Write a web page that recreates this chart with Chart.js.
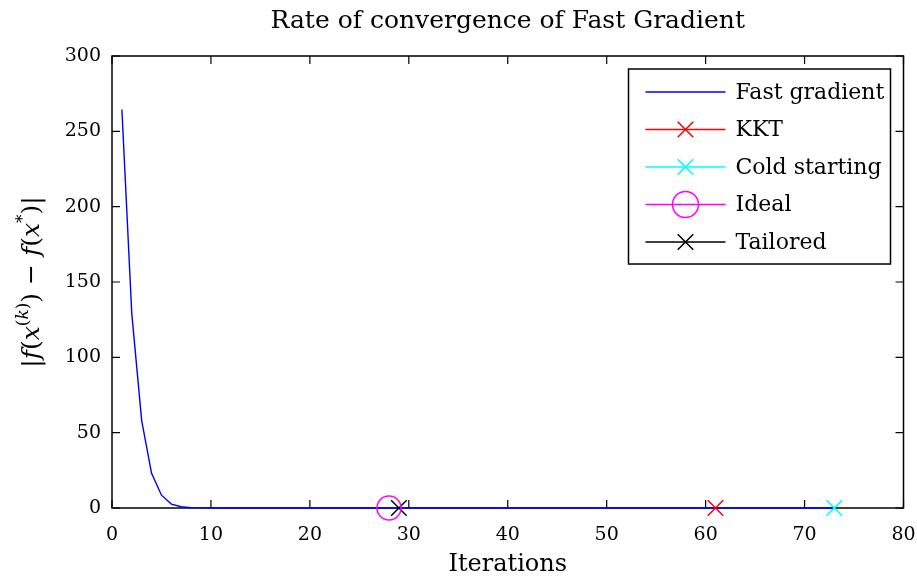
<!DOCTYPE html>
<html>
<head>
<meta charset="utf-8">
<script src="https://cdn.jsdelivr.net/npm/chart.js@4.4.1/dist/chart.umd.min.js"></script>
<style>
  html, body { margin: 0; padding: 0; background: #fff; }
  #wrap { width: 917px; height: 579px; }
</style>
</head>
<body>
<div id="wrap"><canvas id="conv" width="917" height="579"></canvas></div>
<script>
// gap |f(x^(k)) - f(x*)| per iteration of the fast gradient method
const fastGradient = [
  264.5, 129, 58, 23, 8.5, 2.6, 0.8, 0.25, 0.08, 0.03,
  0.01, 0.005, 0.002, 0.001, 0, 0, 0, 0, 0, 0,
  0, 0, 0, 0, 0, 0, 0, 0, 0, 0,
  0, 0, 0, 0, 0, 0, 0, 0, 0, 0,
  0, 0, 0, 0, 0, 0, 0, 0, 0, 0,
  0, 0, 0, 0, 0, 0, 0, 0, 0, 0,
  0, 0, 0, 0, 0, 0, 0, 0, 0, 0,
  0, 0, 0
];
const iterations = fastGradient.map((_, i) => i + 1);

// stopping iteration of each termination criterion
const stopLabels = ['KKT', 'Cold starting', 'Ideal', 'Tailored'];
const stopIters  = [61, 73, 28, 29];
const stopGap    = [0, 0, 0, 0];
const stopColors = ['#ff0000', '#00ffff', '#ff00ff', '#000000'];
const stopStyles = ['crossRot', 'crossRot', 'circle', 'crossRot'];

const xTicks = [0, 10, 20, 30, 40, 50, 60, 70, 80];
const yTicks = [0, 50, 100, 150, 200, 250, 300];

const serif = "'DejaVu Serif', 'Liberation Serif', serif";

const datasets = [{
  label: 'Fast gradient',
  data: iterations.map((it, i) => ({ x: it, y: fastGradient[i] })),
  borderColor: '#0000ff',
  borderWidth: 1.4,
  pointRadius: 0,
  tension: 0,
  clip: false,
  order: 5,
  legendStyle: null
}];
stopLabels.forEach((lab, i) => {
  datasets.push({
    label: lab,
    data: [{ x: stopIters[i], y: stopGap[i] }],
    borderColor: stopColors[i],
    backgroundColor: 'rgba(0,0,0,0)',
    showLine: false,
    pointStyle: stopStyles[i],
    pointRadius: stopStyles[i] === 'circle' ? 12 : 11,
    pointBorderWidth: 1.5,
    clip: false,
    order: 0,
    legendStyle: stopStyles[i]
  });
});

const TICK = 8;

const framePlugin = {
  id: 'frame',
  beforeDatasetsDraw(chart) {
    const { ctx, chartArea: a, scales } = chart;
    ctx.save();
    ctx.strokeStyle = '#000';
    ctx.lineWidth = 1.5;
    ctx.strokeRect(a.left, a.top, a.right - a.left, a.bottom - a.top);
    ctx.lineWidth = 1.2;
    ctx.beginPath();
    xTicks.forEach(v => {
      const px = scales.x.getPixelForValue(v);
      ctx.moveTo(px, a.bottom); ctx.lineTo(px, a.bottom - TICK);
      ctx.moveTo(px, a.top); ctx.lineTo(px, a.top + TICK);
    });
    yTicks.forEach(v => {
      const py = scales.y.getPixelForValue(v);
      ctx.moveTo(a.left, py); ctx.lineTo(a.left + TICK, py);
      ctx.moveTo(a.right, py); ctx.lineTo(a.right - TICK, py);
    });
    ctx.stroke();
    ctx.restore();
  },
  afterDraw(chart) {
    const { ctx, chartArea: a } = chart;
    ctx.save();

    // y axis label with real superscripts
    ctx.translate(39, (a.top + a.bottom) / 2);
    ctx.rotate(-Math.PI / 2);
    ctx.fillStyle = '#000';
    ctx.textBaseline = 'alphabetic';
    const it = "italic 25px " + serif, up = "25px " + serif;
    const sIt = "italic 17px " + serif, sUp = "17px " + serif;
    const parts = [
      ['|', up, 0], ['f', it, 0], ['(', up, 0], ['x', it, 0], ['(', sUp, -11],
      ['k', sIt, -11], [')', sUp, -11], [')', up, 0], [' \u2212 ', up, 0],
      ['f', it, 0], ['(', up, 0], ['x', it, 0], ['*', sUp, -11], [')', up, 0], ['|', up, 0]
    ];
    let total = 0;
    parts.forEach(p => { ctx.font = p[1]; total += ctx.measureText(p[0]).width; });
    let cx = -total / 2;
    parts.forEach(p => {
      ctx.font = p[1];
      ctx.fillText(p[0], cx, 0 + p[2]);
      cx += ctx.measureText(p[0]).width;
    });
    ctx.restore();

    // legend box
    const items = chart.data.datasets;
    const bx = a.right - 275, by = a.top + 13, bw = 262, bh = 195;
    ctx.save();
    ctx.fillStyle = '#fff';
    ctx.fillRect(bx, by, bw, bh);
    ctx.strokeStyle = '#000';
    ctx.lineWidth = 1.5;
    ctx.strokeRect(bx, by, bw, bh);
    items.forEach((ds, i) => {
      const y = by + 23 + i * 37.5;
      ctx.strokeStyle = ds.borderColor;
      ctx.lineWidth = 1.4;
      ctx.beginPath();
      ctx.moveTo(bx + 17, y); ctx.lineTo(bx + 97, y);
      ctx.stroke();
      if (ds.legendStyle) {
        ctx.lineWidth = 1.5;
        ctx.fillStyle = 'rgba(0,0,0,0)';
        Chart.helpers.drawPoint(ctx, {
          pointStyle: ds.legendStyle,
          radius: ds.legendStyle === 'circle' ? 13 : 11,
          rotation: 0,
          borderWidth: 1.5
        }, bx + 57, y);
      }
      ctx.fillStyle = '#000';
      ctx.font = "22px " + serif;
      ctx.textBaseline = 'middle';
      ctx.fillText(ds.label, bx + 107, y + 1);
    });
    ctx.restore();
  }
};

new Chart(document.getElementById('conv'), {
  type: 'line',
  data: { datasets },
  plugins: [framePlugin],
  options: {
    responsive: false,
    animation: false,
    layout: { padding: { left: 0, right: 9, top: 0, bottom: 0 } },
    plugins: {
      legend: { display: false },
      tooltip: { enabled: false },
      title: {
        display: true,
        fullSize: false,
        text: 'Rate of convergence of Fast Gradient',
        color: '#000',
        font: { family: serif, size: 25, weight: 'normal' },
        padding: { top: 6, bottom: 20 }
      }
    },
    scales: {
      x: {
        type: 'linear',
        min: 0, max: 80,
        afterBuildTicks: s => { s.ticks = xTicks.map(v => ({ value: v })); },
        afterFit: s => { s.height = 71; s.paddingLeft = 0; s.paddingRight = 0; },
        grid: { display: false, drawTicks: false },
        border: { display: false },
        ticks: { color: '#000', padding: 16, font: { family: serif, size: 19 } },
        title: {
          display: true, text: 'Iterations', color: '#000',
          font: { family: serif, size: 24 }, padding: { top: 0, bottom: 0 }
        }
      },
      y: {
        type: 'linear',
        min: 0, max: 300,
        afterBuildTicks: s => { s.ticks = yTicks.map(v => ({ value: v })); },
        afterFit: s => { s.width = 112; s.paddingTop = 0; s.paddingBottom = 0; },
        grid: { display: false, drawTicks: false },
        border: { display: false },
        ticks: { color: '#000', padding: 11, font: { family: serif, size: 19 } }
      }
    }
  }
});
</script>
</body>
</html>
